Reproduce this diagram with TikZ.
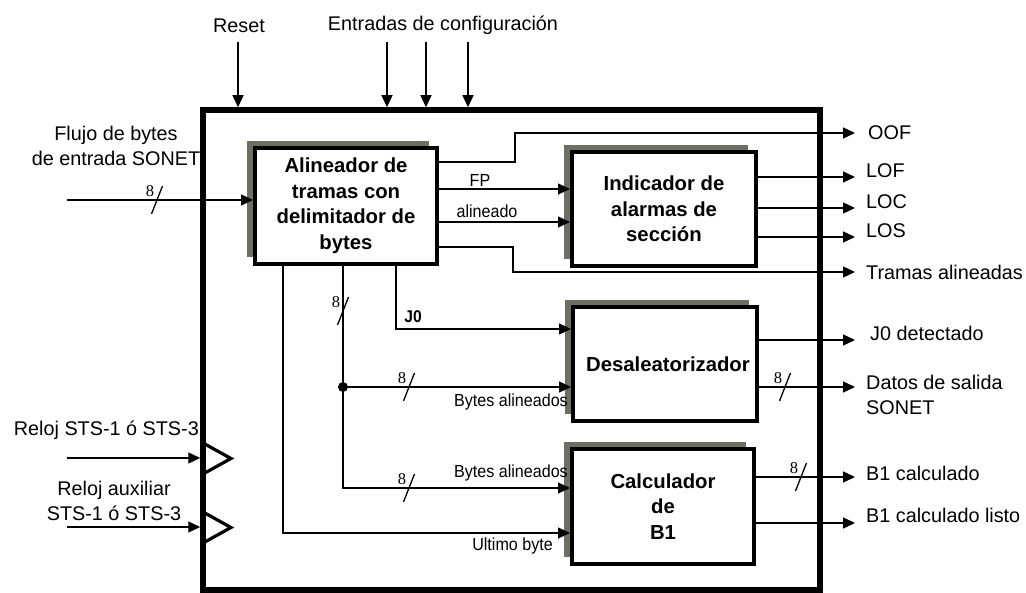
\documentclass[tikz,border=0pt]{standalone}
\usepackage{fontspec}
\setmainfont{Liberation Sans}
\newfontfamily\numfont{Liberation Serif}
\newfontfamily\narrowsans[FakeStretch=0.92]{Liberation Sans}
\usetikzlibrary{arrows.meta}
\definecolor{shadowgray}{RGB}{110,110,98}
\begin{document}
\begin{tikzpicture}[x=1pt,y=-1pt,
  lbl/.style={font=\fontsize{19.8}{25}\selectfont, inner sep=0pt},
  small/.style={font=\narrowsans\fontsize{17.5}{20}\selectfont, inner sep=0pt},
  blk/.style={draw, line width=4pt, fill=white, align=center, inner sep=0pt,
    font=\fontsize{20.3}{25.5}\selectfont\bfseries},
  shadowbox/.style={fill=shadowgray},
  wire/.style={line width=1.3pt},
  arr/.style={wire, -{Triangle[length=12pt,width=11pt]}},
  clk/.style={line width=3.2pt, line join=miter},
  bus/.pic={\draw[wire] (-5.5,14) -- (5.5,-14);
            \node[font=\numfont\fontsize{16.5}{18}\selectfont, inner sep=0pt] (-n) at (-7,-9) {8};},
]
\useasboundingbox (0,0) rectangle (1026,593);

% outer chip
\node[draw, line width=5.5pt, minimum width=617pt, minimum height=480pt, inner sep=0pt] (chip) at (511.5,350) {};

% shadows
\fill[shadowbox] (247,141) rectangle (429,257);
\fill[shadowbox] (564,145) rectangle (748,259);
\fill[shadowbox] (565,300) rectangle (749,414);
\fill[shadowbox] (564,442) rectangle (746,557);

% blocks
\node[blk, minimum width=182pt, minimum height=116pt] (ali) at (346,206)
  {Alineador de\\tramas con\\delimitador de\\bytes};
\node[blk, minimum width=184pt, minimum height=114pt] (ind) at (664,209)
  {Indicador de\\alarmas de\\secci\'on};
\node[blk, minimum width=184pt, minimum height=114pt] (des) at (665,364)
  {\hspace*{6pt}Desaleatorizador};
\node[blk, minimum width=182pt, minimum height=115pt] (cal) at (663,506.5)
  {Calculador\\de\\B1};

% top inputs
\node[lbl] (tRst) at (239,26) {Reset};
\node[lbl] (tCfg) at (443,25) {Entradas de configuraci\'on};
\coordinate (rst) at (238,42);
\coordinate (cf1) at (387,42);
\coordinate (cf2) at (426,42);
\coordinate (cf3) at (468,42);
\foreach \c in {rst,cf1,cf2,cf3}{\draw[arr] (\c) -- (\c |- chip.north);}

% data input
\node[lbl, align=center] (tFlujo) at (116,146) {Flujo de bytes\\de entrada SONET};
\coordinate (fin) at (67,200);
\draw[arr] (fin) -- (ali.west |- fin);
\pic (b0) at (157,200) {bus};

% clocks
\node[lbl, anchor=east] (tClk1) at (199,430) {Reloj STS-1 \'o STS-3};
\node[lbl, align=center] (tClk2) at (114,501) {Reloj auxiliar\\STS-1 \'o STS-3};
\coordinate (ck1) at (67,458);
\coordinate (ck2) at (67,527);
\draw[arr] (ck1) -- (ck1 -| chip.west);
\draw[arr] (ck2) -- (ck2 -| chip.west);
\draw[clk] (203,443) -- (231,458.5) -- (203,474);
\draw[clk] (203,512) -- (231,527.5) -- (203,543);

% alineador -> outputs
\coordinate (oofout) at (855,133);
\draw[arr] (ali.east |- 0,162) -- (515,162) -- (515,133) -- (oofout);
\node[lbl, anchor=west] (tOOF) at (868,133) {OOF};
\draw[arr] (ali.east |- 0,189) -- (ind.west |- 0,189);
\node[small] (tFP) at (480,180) {FP};
\draw[arr] (ali.east |- 0,222) -- (ind.west |- 0,222);
\node[small] (tAl) at (487,211) {alineado};
\coordinate (tramout) at (855,272);
\draw[arr] (ali.east |- 0,247) -- (513,247) -- (513,272) -- (tramout);
\node[lbl, anchor=west] (tTram) at (866,272) {Tramas alineadas};

% indicador outputs
\foreach \y/\t/\n in {177/LOF/lof, 208/LOC/loc, 237/LOS/los}{
  \coordinate (\n) at (855,\y);
  \draw[arr] (ind.east |- \n) -- (\n);
  \node[lbl, anchor=west] (t\n) at (866,\y-6) {\t};
}

% alineador -> lower blocks
\draw[arr] (ali.south -| 396,0) -- (396,329) -- (des.west |- 0,329);
\node[small, font=\narrowsans\fontsize{17}{19}\selectfont\bfseries] (tJ0) at (413,317) {J0};
\draw[arr] (ali.south -| 343,0) -- (343,488) -- (cal.west |- 0,488);
\pic (b1) at (343,311) {bus};
\fill (343,387) circle (5pt) coordinate (dot);
\draw[arr] (dot) -- (des.west |- dot);
\pic (b2) at (409,387) {bus};
\pic (b3) at (409,488) {bus};
\node[small, anchor=east] (tBA1) at (568,402) {Bytes alineados};
\node[small, anchor=east] (tBA2) at (568,473) {Bytes alineados};
\draw[arr] (ali.south -| 283,0) -- (283,533) -- (cal.west |- 0,533);
\node[small, anchor=east] (tUlt) at (553,546) {Ultimo byte};

% desaleatorizador outputs
\coordinate (j0out) at (855,340);
\draw[arr] (des.east |- j0out) -- (j0out);
\node[lbl, anchor=west] (tJ0d) at (870,333) {J0 detectado};
\coordinate (datout) at (855,387);
\draw[arr] (des.east |- datout) -- (datout);
\pic (b4) at (785,387) {bus};
\node[lbl, anchor=west, align=left] (tDat) at (866,395) {Datos de salida\\SONET};

% calculador outputs
\coordinate (b1out) at (855,477);
\draw[arr] (cal.east |- b1out) -- (b1out);
\pic (b5) at (801,477) {bus};
\node[lbl, anchor=west] (tB1) at (866,473) {B1 calculado};
\coordinate (b1lout) at (855,523);
\draw[arr] (cal.east |- b1lout) -- (b1lout);
\node[lbl, anchor=west] (tB1l) at (866,515) {B1 calculado listo};
\end{tikzpicture}
\end{document}
